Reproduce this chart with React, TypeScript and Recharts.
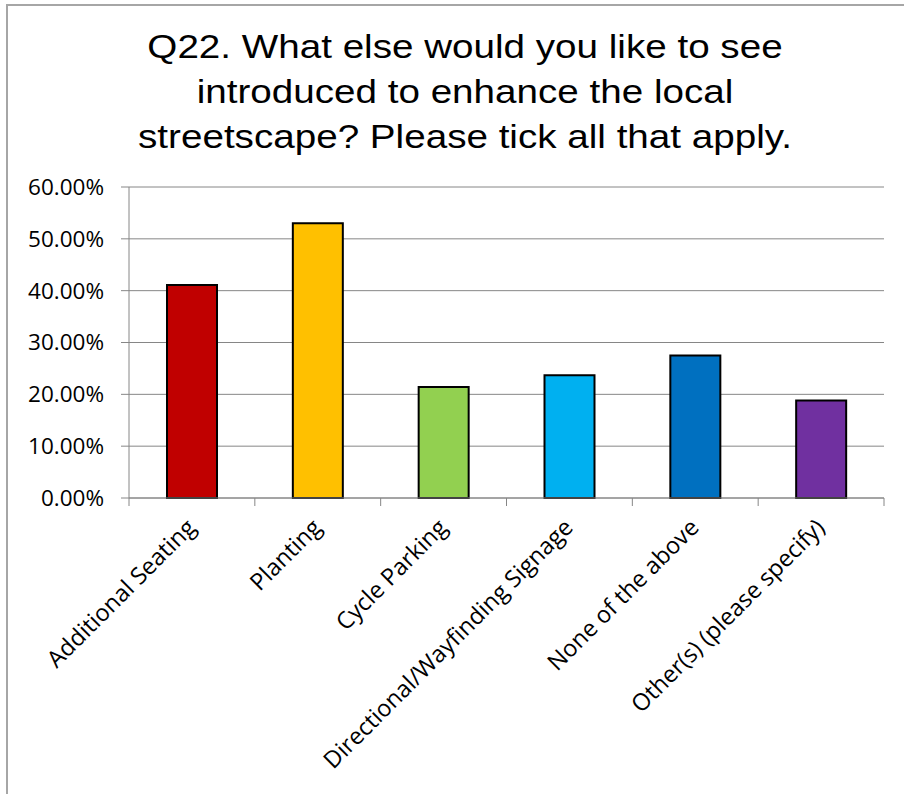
import React from 'react';
import { BarChart, Bar, XAxis, YAxis, CartesianGrid, Cell } from 'recharts';

const categories = [
    'Additional Seating',
    'Planting',
    'Cycle Parking',
    'Directional/Wayfinding Signage',
    'None of the above',
    'Other(s) (please specify)',
];
const percentages = [41.1, 53.0, 21.4, 23.7, 27.5, 18.8];
const barColors = ['#C00000', '#FFC000', '#92D050', '#00B0F0', '#0070C0', '#7030A0'];
const yTicks = [0, 10, 20, 30, 40, 50, 60];
const titleLines = [
    'Q22. What else would you like to see',
    'introduced to enhance the local',
    'streetscape? Please tick all that apply.',
];

const data = categories.map((name, i) => ({ name, value: percentages[i] }));

const W = 904;
const H = 794;
const margin = { top: 187, right: 20, left: 0, bottom: 236 };
const yAxisWidth = 129;
const step = (W - margin.left - margin.right - yAxisWidth) / categories.length;
const axisGray = '#868686';
const tickFont = "'Open Sans', sans-serif";

// category label, plus Excel-style tick marks between categories
const CategoryTick = (props: any) => {
    const { x, y, payload, index } = props;
    const tx = x + 5;
    const ty = y + 31;
    return (
        <g>
            <line x1={x - step / 2} y1={y} x2={x - step / 2} y2={y + 8} stroke={axisGray} strokeWidth={1} />
            {index === categories.length - 1 && (
                <line x1={x + step / 2} y1={y} x2={x + step / 2} y2={y + 8} stroke={axisGray} strokeWidth={1} />
            )}
            <text
                x={tx}
                y={ty}
                transform={`rotate(-45, ${tx}, ${ty})`}
                textAnchor="end"
                fontFamily={tickFont}
                fontSize={23.5}
                fill="#000"
            >
                {payload.value}
            </text>
        </g>
    );
};

const App = () => {
    return (
        <div style={{ position: 'absolute', left: 0, top: 0, width: W, height: H, overflow: 'hidden', background: '#fff' }}>
            <div
                style={{
                    position: 'absolute',
                    left: 6,
                    top: 4,
                    width: W + 20,
                    height: H + 20,
                    border: '2px solid #a6a6a6',
                    boxSizing: 'border-box',
                }}
            />
            <div
                style={{
                    position: 'absolute',
                    left: 0,
                    top: 24,
                    width: 930,
                    textAlign: 'center',
                    fontFamily: "'Liberation Sans', Arial, sans-serif",
                    fontSize: 33,
                    lineHeight: '45px',
                    color: '#000',
                    transform: 'scaleX(1.17)',
                    transformOrigin: '465px 0',
                }}
            >
                {titleLines.map((line) => (
                    <div key={line}>{line}</div>
                ))}
            </div>
            <div style={{ position: 'absolute', left: 0, top: 0 }}>
                <BarChart width={W} height={H} data={data} margin={margin}>
                    <CartesianGrid vertical={false} stroke={axisGray} strokeWidth={1} />
                    <XAxis
                        dataKey="name"
                        interval={0}
                        height={60}
                        tickSize={0}
                        tickMargin={0}
                        axisLine={{ stroke: axisGray, strokeWidth: 1 }}
                        tickLine={false}
                        tick={<CategoryTick />}
                    />
                    <YAxis
                        width={yAxisWidth}
                        domain={[0, 60]}
                        ticks={yTicks}
                        tickFormatter={(v: number) => `${v.toFixed(2)}%`}
                        tickSize={8}
                        tickMargin={17}
                        axisLine={{ stroke: axisGray, strokeWidth: 1 }}
                        tickLine={{ stroke: axisGray, strokeWidth: 1 }}
                        tick={{ fontFamily: tickFont, fontSize: 22.5, fill: '#000' }}
                    />
                    <Bar dataKey="value" barSize={50} stroke="#000" strokeWidth={2} isAnimationActive={false}>
                        {data.map((d, i) => (
                            <Cell key={d.name} fill={barColors[i]} />
                        ))}
                    </Bar>
                </BarChart>
            </div>
        </div>
    );
};

export default App;
